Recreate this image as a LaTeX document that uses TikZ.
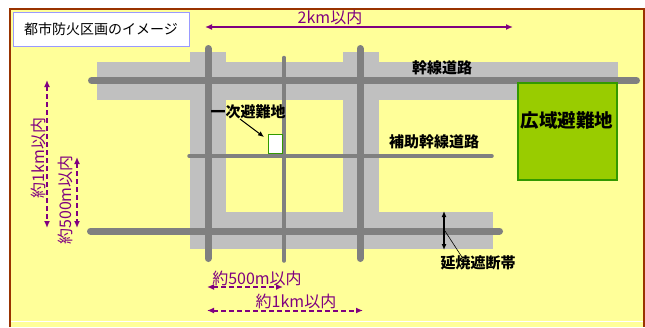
\documentclass[tikz,border=0pt]{standalone}
\usepackage{fontspec}
\newfontfamily\jp{Noto Sans CJK JP}
\usetikzlibrary{arrows.meta,calc}
\definecolor{bgyellow}{HTML}{FFFF99}
\definecolor{framebrown}{HTML}{993300}
\definecolor{roadgray}{HTML}{808080}
\definecolor{bandgray}{HTML}{C0C0C0}
\definecolor{dimpurple}{HTML}{800080}
\definecolor{parkgreen}{HTML}{99CC00}
\definecolor{parkedge}{HTML}{339900}
\definecolor{titleedge}{HTML}{9999FF}
\begin{document}
\begin{tikzpicture}[x=1pt,y=-1pt,
 band/.style={fill=bandgray, draw=none},
 mainroad/.style={draw=roadgray, line width=7pt, line cap=round},
 subroad/.style={draw=roadgray, line width=3.5pt, line cap=round},
 dimlabel/.style={text=dimpurple, font=\jp\fontsize{16}{16}\selectfont, inner sep=0pt},
 dimsolid/.style={draw=dimpurple, line width=2pt, {Latex[length=7pt,width=6pt]}-{Latex[length=7pt,width=6pt]}},
 dimdash/.style={dimsolid, dash pattern=on 5pt off 3pt},
 blacklabel/.style={font=\jp\bfseries\fontsize{15}{15}\selectfont, inner sep=0pt},
]
\useasboundingbox (0,0) rectangle (645,327);
% background and frame
\fill[white] (0,0) rectangle (645,327);
\fill[bgyellow] (10,9) rectangle (643.5,327);
\draw[framebrown, line width=2pt] (10,327) -- (10,9) -- (643.5,9) -- (643.5,327);
\draw[white, line width=1pt] (11,321) -- (642.5,321);

% fire-break bands
\fill[band] (97,62) rectangle (618,100);
\fill[band] (190,212) rectangle (493,249);
\fill[band] (190,52) rectangle (226,249);
\fill[band] (343,52) rectangle (379,249);

% roads
\coordinate (h1a) at (91.5,80.5);  \coordinate (h1b) at (636.5,80.5);
\coordinate (h2a) at (90.5,231);   \coordinate (h2b) at (499.5,231);
\coordinate (v1a) at (208,48.5);   \coordinate (v1b) at (208,258.5);
\coordinate (v2a) at (360,48.5);   \coordinate (v2b) at (360,258.5);
\coordinate (v3a) at (284,57.5);   \coordinate (v3b) at (284,261);
\coordinate (h3a) at (189,156);    \coordinate (h3b) at (492,156);
\draw[subroad] (v3a) -- (v3b);
\draw[subroad] (h3a) -- (h3b);
\draw[mainroad] (h1a) -- (h1b);
\draw[mainroad] (h2a) -- (h2b);
\draw[mainroad] (v1a) -- (v1b);
\draw[mainroad] (v2a) -- (v2b);

% wide-area evacuation site
\node[draw=parkedge, fill=parkgreen, line width=1.5pt, minimum width=99pt, minimum height=97pt, inner sep=0pt, anchor=north west] (park) at (517,82) {};
\node[font=\jp\bfseries\fontsize{18.5}{18.5}\selectfont, inner sep=0pt] (parklbl) at (567,120) {広域避難地};

% primary evacuation site
\node[draw=parkedge, fill=white, line width=1pt, minimum width=14pt, minimum height=19pt, inner sep=0pt, anchor=north west] (small) at (268,134) {};
\node[blacklabel] (ichiji) at (248,112) {一次避難地};
\coordinate (ichijistart) at (240,119);
\draw[-{Latex[length=6pt,width=5pt]}, line width=1pt] (ichijistart) -- ($(small.north west)+(-4,3)$);

% title
\node[draw=titleedge, fill=white, line width=1pt, minimum width=176pt, minimum height=34pt, inner sep=0pt, font=\jp\fontsize{14}{14}\selectfont] (title) at (101,29) {都市防火区画のイメージ};

% road labels
\node[blacklabel] (kansen) at (442,68) {幹線道路};
\node[blacklabel] (hojo) at (434,142) {補助幹線道路};
\node[blacklabel] (enshou) at (478,263) {延焼遮断帯};

% fire-break width arrow
\coordinate (fbtop) at (444,211);
\coordinate (fbbot) at (444,250);
\coordinate (fbmid) at (445,231);
\draw[{Latex[length=6pt,width=5pt]}-{Latex[length=6pt,width=5pt]}, line width=1.2pt] (fbtop) -- (fbbot);
\draw[line width=0.6pt] (fbmid) -- ($(enshou.north west)+(22,2)$);

% dimension arrows
\coordinate (d2a) at (205,27); \coordinate (d2b) at (513,27);
\draw[dimsolid] (d2a) -- (d2b);
\node[dimlabel] (d2lbl) at (330,17) {2km以内};

\coordinate (dv1a) at (47,80); \coordinate (dv1b) at (47,228);
\draw[dimdash] (dv1a) -- (dv1b);
\node[dimlabel, rotate=90] (dv1lbl) at (38,158) {約1km以内};

\coordinate (dv2a) at (77,157); \coordinate (dv2b) at (77,228);
\draw[dimdash] (dv2a) -- (dv2b);
\node[dimlabel, rotate=90] (dv2lbl) at (65,200) {約500m以内};

\coordinate (dh1a) at (207,287); \coordinate (dh1b) at (283,287);
\draw[dimdash] (dh1a) -- (dh1b);
\node[dimlabel] (dh1lbl) at (257,278) {約500m以内};

\coordinate (dh2a) at (207,310.5); \coordinate (dh2b) at (363,310.5);
\draw[dimdash] (dh2a) -- (dh2b);
\node[dimlabel] (dh2lbl) at (296,301) {約1km以内};
\end{tikzpicture}
\end{document}
